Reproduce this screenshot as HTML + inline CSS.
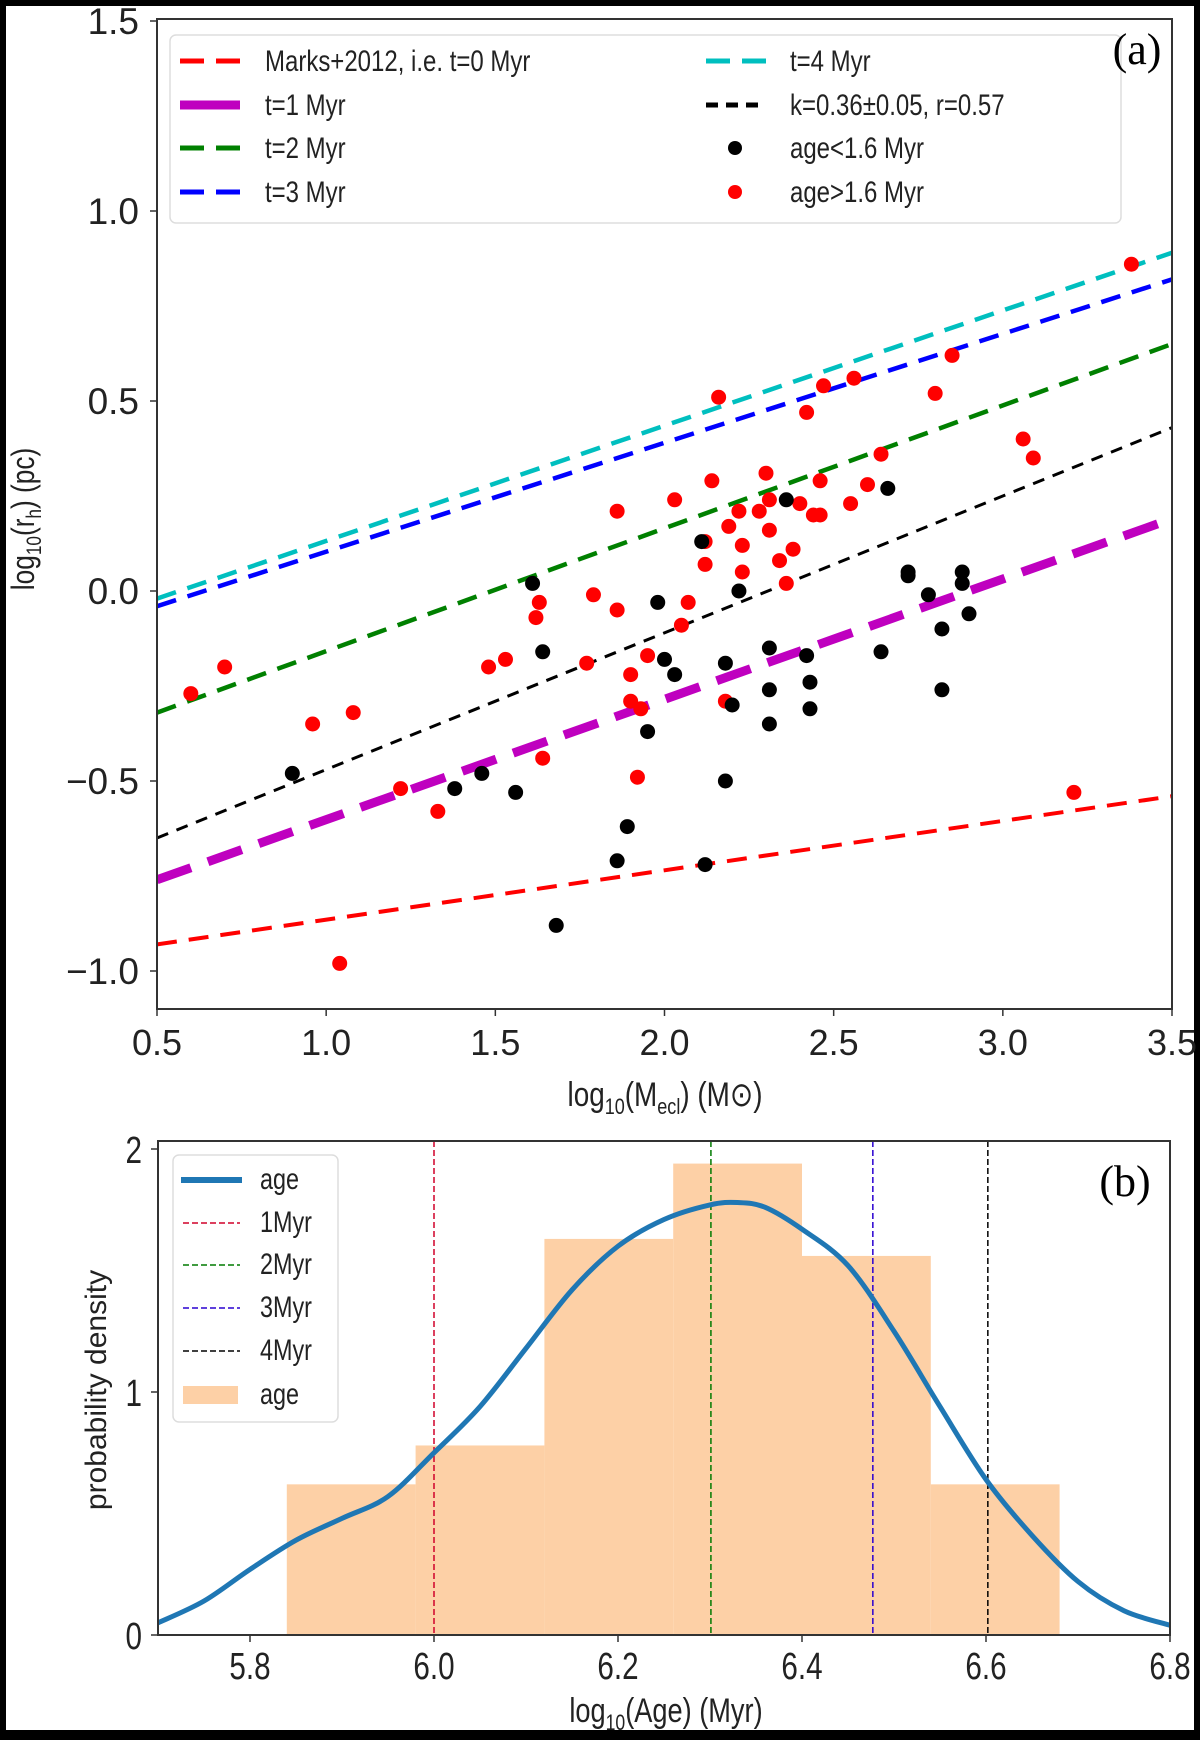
<!DOCTYPE html>
<html><head><meta charset="utf-8"><style>
html,body{margin:0;padding:0;background:#000;}
svg{display:block;font-family:"Liberation Sans",sans-serif;}
</style></head><body>
<svg id="fig" width="1200" height="1740" viewBox="0 0 1200 1740" xmlns="http://www.w3.org/2000/svg">
<rect x="6" y="6" width="1188" height="1724" fill="#fff"/>
<g id="top"></g>
<g id="bot"></g>
</svg>
<script>
// ---- Panel (a) data ----
const aXTicks = [0.5,1.0,1.5,2.0,2.5,3.0,3.5];
const aYTicks = [-1.0,-0.5,0.0,0.5,1.0,1.5];
const lineNames = ["marks2012","t1","t2","t3","t4","fit"];
const lineStart = [-0.93,-0.76,-0.32,-0.04,-0.02,-0.65];
const lineEnd = [-0.54,0.19,0.65,0.82,0.89,0.43];
const redX = [0.6,0.7,0.96,1.08,1.04,1.22,1.33,1.48,1.53,1.62,1.63,1.64,1.77,1.79,1.86,1.86,1.9,1.9,1.92,1.93,1.95,2.03,2.05,2.07,2.12,2.12,2.14,2.16,2.19,2.18,2.22,2.23,2.23,2.28,2.30,2.31,2.31,2.34,2.36,2.38,2.4,2.42,2.44,2.46,2.46,2.47,2.55,2.56,2.6,2.64,2.8,2.85,3.06,3.09,3.21,3.38];
const redY = [-0.27,-0.2,-0.35,-0.32,-0.98,-0.52,-0.58,-0.2,-0.18,-0.07,-0.03,-0.44,-0.19,-0.01,0.21,-0.05,-0.22,-0.29,-0.49,-0.31,-0.17,0.24,-0.09,-0.03,0.13,0.07,0.29,0.51,0.17,-0.29,0.21,0.12,0.05,0.21,0.31,0.24,0.16,0.08,0.02,0.11,0.23,0.47,0.2,0.2,0.29,0.54,0.23,0.56,0.28,0.36,0.52,0.62,0.40,0.35,-0.53,0.86];
const blackX = [0.9,1.38,1.46,1.56,1.61,1.64,1.68,1.86,1.89,1.95,1.98,2.0,2.03,2.11,2.12,2.18,2.18,2.2,2.22,2.31,2.31,2.31,2.36,2.42,2.43,2.43,2.64,2.66,2.72,2.72,2.78,2.82,2.82,2.88,2.88,2.9];
const blackY = [-0.48,-0.52,-0.48,-0.53,0.02,-0.16,-0.88,-0.71,-0.62,-0.37,-0.03,-0.18,-0.22,0.13,-0.72,-0.19,-0.5,-0.3,0.0,-0.15,-0.26,-0.35,0.24,-0.17,-0.24,-0.31,-0.16,0.27,0.05,0.04,-0.01,-0.1,-0.26,0.05,0.02,-0.06];
// ---- Panel (b) data ----
const bXTicks = [5.8,6.0,6.2,6.4,6.6,6.8];
const bYTicks = [0,1,2];
const binEdges = [5.84,5.98,6.12,6.26,6.40,6.54,6.68];
const binHeights = [0.62,0.78,1.63,1.94,1.56,0.62];
const kdeX = [5.7,5.75,5.8,5.85,5.9,5.95,6.0,6.05,6.1,6.15,6.2,6.25,6.3,6.33,6.36,6.4,6.45,6.5,6.55,6.6,6.65,6.7,6.75,6.8];
const kdeY = [0.05,0.14,0.27,0.39,0.48,0.57,0.75,0.94,1.18,1.42,1.60,1.71,1.77,1.78,1.76,1.67,1.52,1.25,0.94,0.64,0.41,0.22,0.10,0.04];
const vlineX = [6.0,6.301,6.477,6.602];

const NS="http://www.w3.org/2000/svg";
function mk(parent,tag,attrs,text){const e=document.createElementNS(NS,tag);for(const k in attrs)e.setAttribute(k,attrs[k]);if(text!==undefined)e.textContent=text;parent.appendChild(e);return e;}

// axes (a)
const AX0=157,AX1=1172,AY0=1009,AY1=19;
const ax=v=>AX0+(v-0.5)/3.0*(AX1-AX0);
const ay=v=>591-v*380;
const gTop=document.getElementById('top');
aXTicks.forEach(t=>{
  const l=mk(gTop,'line',{x1:ax(t),x2:ax(t),y1:AY0,y2:AY0+7,stroke:'#333','stroke-width':1.5});
  
  
  const s=mk(gTop,'text',{x:ax(t),y:1055,'font-size':36,'text-anchor':'middle',fill:'#222'},t.toFixed(1));
  
  
});
aYTicks.forEach(t=>{
  const l=mk(gTop,'line',{x1:AX0-7,x2:AX0,y1:ay(t),y2:ay(t),stroke:'#333','stroke-width':1.5});
  
  
  const s=mk(gTop,'text',{x:AX0-18,y:ay(t)+13,'font-size':37,'text-anchor':'end',fill:'#222'},(t<0?'\u2212':'')+Math.abs(t).toFixed(1));
  
  
});
const lineStyle={
  marks2012:{c:'#ff0000',w:4,d:'20 12'},
  t1:{c:'#bf00bf',w:9,d:'36 18'},
  t2:{c:'#008000',w:4.5,d:'20 12'},
  t3:{c:'#0000ff',w:4.5,d:'20 12'},
  t4:{c:'#00bfbf',w:4.5,d:'20 12'},
  fit:{c:'#000',w:3,d:'12 9'}
};
const clipD=mk(gTop,'defs',{});
const cp=mk(clipD,'clipPath',{id:'clipA'});
mk(cp,'rect',{x:AX0,y:AY1,width:AX1-AX0,height:AY0-AY1});
const lg=mk(gTop,'g',{'clip-path':'url(#clipA)'});
lineNames.forEach((n,i)=>{
  const st=lineStyle[n];
  const l=mk(lg,'line',{x1:ax(0.5),y1:ay(lineStart[i]),x2:ax(3.5),y2:ay(lineEnd[i]),stroke:st.c,'stroke-width':st.w,'stroke-dasharray':st.d});
  
  
});
redX.forEach((x,i)=>{
  const c=mk(lg,'circle',{cx:ax(x),cy:ay(redY[i]),r:7.5,fill:'#ff0000'});
  
  
});
blackX.forEach((x,i)=>{
  const c=mk(lg,'circle',{cx:ax(x),cy:ay(blackY[i]),r:7.5,fill:'#000'});
  
  
});
const fa=mk(gTop,'rect',{x:AX0,y:AY1,width:AX1-AX0,height:AY0-AY1,fill:'none',stroke:'#333','stroke-width':2});


// legend (a)
const legA=mk(gTop,'g',{});


mk(legA,'rect',{x:170,y:35,width:951,height:188,rx:6,fill:'#fff','fill-opacity':0.85,stroke:'#ddd','stroke-width':1.5});
const legItems=[
 ['marks2012',180,265,61,'Marks+2012, i.e. t=0 Myr'],
 ['t1',180,265,105,'t=1 Myr'],
 ['t2',180,265,148,'t=2 Myr'],
 ['t3',180,265,192,'t=3 Myr'],
 ['t4',706,790,61,'t=4 Myr'],
 ['fit',706,790,105,'k=0.36\u00b10.05, r=0.57']];
legItems.forEach(it=>{
  const st=lineStyle[it[0]];
  const g=mk(legA,'g',{});
  
  
  const dash=it[0]==='t1'?'60 0':(it[0]==='fit'?'12 8':'24 12');
  mk(g,'line',{x1:it[1],x2:it[1]+60,y1:it[3],y2:it[3],stroke:st.c,'stroke-width':it[0]==='t1'?9:5,'stroke-dasharray':dash});
  mk(g,'text',{transform:`translate(${it[2]},${it[3]+10}) scale(0.8,1)`,'font-size':30,fill:'#222'},it[4]);
});
[['young','#000',148,'age<1.6 Myr'],['old','#ff0000',192,'age>1.6 Myr']].forEach(it=>{
  const g=mk(legA,'g',{});
  
  
  mk(g,'circle',{cx:735,cy:it[2],r:7,fill:it[1]});
  mk(g,'text',{transform:`translate(790,${it[2]+10}) scale(0.8,1)`,'font-size':30,fill:'#222'},it[3]);
});
const pa=mk(gTop,'text',{x:1137,y:64,'font-size':44,'font-family':'Liberation Serif, serif','text-anchor':'middle',fill:'#000'},'(a)');


const xla=mk(gTop,'text',{transform:'translate(665,1106) scale(0.82,1)','font-size':34,'text-anchor':'middle',fill:'#222'});


xla.innerHTML='log<tspan font-size="22" dy="8">10</tspan><tspan dy="-8">(M</tspan><tspan font-size="22" dy="8">ecl</tspan><tspan dy="-8">) (M\u2299)</tspan>';
const yla=mk(gTop,'text',{transform:'translate(34,519) rotate(-90) scale(0.82,1)','font-size':32,'text-anchor':'middle',fill:'#222'});


yla.innerHTML='log<tspan font-size="21" dy="7">10</tspan><tspan dy="-7">(r</tspan><tspan font-size="21" dy="7">h</tspan><tspan dy="-7">) (pc)</tspan>';

// axes (b)
const BX0=158,BX1=1170,BY0=1635,BY1=1141;
const bx=v=>BX0+(v-5.7)/1.1*(BX1-BX0);
const by=v=>BY0-v*243;
const gBot=document.getElementById('bot');
binHeights.forEach((h,i)=>{
  const r=mk(gBot,'rect',{x:bx(binEdges[i]),y:by(h),width:bx(binEdges[i+1])-bx(binEdges[i]),height:BY0-by(h),fill:'#fdd0a6'});
  
  
});
const vcol=['#d0002a','#007a00','#2a00d0','#000'];
vlineX.forEach((v,i)=>{
  const l=mk(gBot,'line',{x1:bx(v),x2:bx(v),y1:BY1,y2:BY0,stroke:vcol[i],'stroke-width':1.5,'stroke-dasharray':'6 3'});
  
  
});
// smooth Catmull-Rom path through KDE points
const P=kdeX.map((x,i)=>[bx(x),by(kdeY[i])]);
let d='M'+P[0][0].toFixed(1)+','+P[0][1].toFixed(1);
for(let i=0;i<P.length-1;i++){
  const p0=P[Math.max(i-1,0)],p1=P[i],p2=P[i+1],p3=P[Math.min(i+2,P.length-1)];
  const c1=[p1[0]+(p2[0]-p0[0])/6,p1[1]+(p2[1]-p0[1])/6];
  const c2=[p2[0]-(p3[0]-p1[0])/6,p2[1]-(p3[1]-p1[1])/6];
  d+=` C${c1[0].toFixed(1)},${c1[1].toFixed(1)} ${c2[0].toFixed(1)},${c2[1].toFixed(1)} ${p2[0].toFixed(1)},${p2[1].toFixed(1)}`;
}
const kp=mk(gBot,'path',{d:d,fill:'none',stroke:'#1f77b4','stroke-width':5,'stroke-linejoin':'round'});


bXTicks.forEach(t=>{
  const l=mk(gBot,'line',{x1:bx(t),x2:bx(t),y1:BY0,y2:BY0+7,stroke:'#333','stroke-width':1.5});
  
  
  const s=mk(gBot,'text',{transform:`translate(${bx(t)},${1679}) scale(0.78,1)`,'font-size':38,'text-anchor':'middle',fill:'#222'},t.toFixed(1));
  
  
});
bYTicks.forEach(t=>{
  const l=mk(gBot,'line',{x1:BX0-7,x2:BX0,y1:by(t),y2:by(t),stroke:'#333','stroke-width':1.5});
  
  
  const s=mk(gBot,'text',{transform:`translate(${BX0-16},${by(t)+14}) scale(0.78,1)`,'font-size':38,'text-anchor':'end',fill:'#222'},String(t));
  
  
});
const fb=mk(gBot,'rect',{x:BX0,y:BY1,width:BX1-BX0,height:BY0-BY1,fill:'none',stroke:'#333','stroke-width':2});


const legB=mk(gBot,'g',{});


mk(legB,'rect',{x:173,y:1155,width:165,height:267,rx:6,fill:'#fff','fill-opacity':0.85,stroke:'#ddd','stroke-width':1.5});
const lbY=[1180,1223,1265,1308,1351,1395];
const lbT=['age','1Myr','2Myr','3Myr','4Myr','age'];
lbY.forEach((y,i)=>{
  const g=mk(legB,'g',{});
  
  
  if(i===0) mk(g,'line',{x1:181,x2:242,y1:y,y2:y,stroke:'#1f77b4','stroke-width':6});
  else if(i===5) mk(g,'rect',{x:183,y:y-9,width:55,height:18,fill:'#fdd0a6'});
  else mk(g,'line',{x1:183,x2:240,y1:y,y2:y,stroke:vcol[i-1],'stroke-width':1.5,'stroke-dasharray':'6 3'});
  mk(g,'text',{transform:`translate(260,${y+9}) scale(0.78,1)`,'font-size':30,fill:'#222'},lbT[i]);
});
const pb=mk(gBot,'text',{x:1125,y:1196,'font-size':44,'font-family':'Liberation Serif, serif','text-anchor':'middle',fill:'#000'},'(b)');


const xlb=mk(gBot,'text',{transform:'translate(666,1722) scale(0.8,1)','font-size':34,'text-anchor':'middle',fill:'#222'});


xlb.innerHTML='log<tspan font-size="22" dy="8">10</tspan><tspan dy="-8">(Age) (Myr)</tspan>';
const ylb=mk(gBot,'text',{x:0,y:0,transform:'translate(106,1390) rotate(-90)','font-size':30,'text-anchor':'middle',fill:'#222'},'probability density');


</script>
</body></html>
